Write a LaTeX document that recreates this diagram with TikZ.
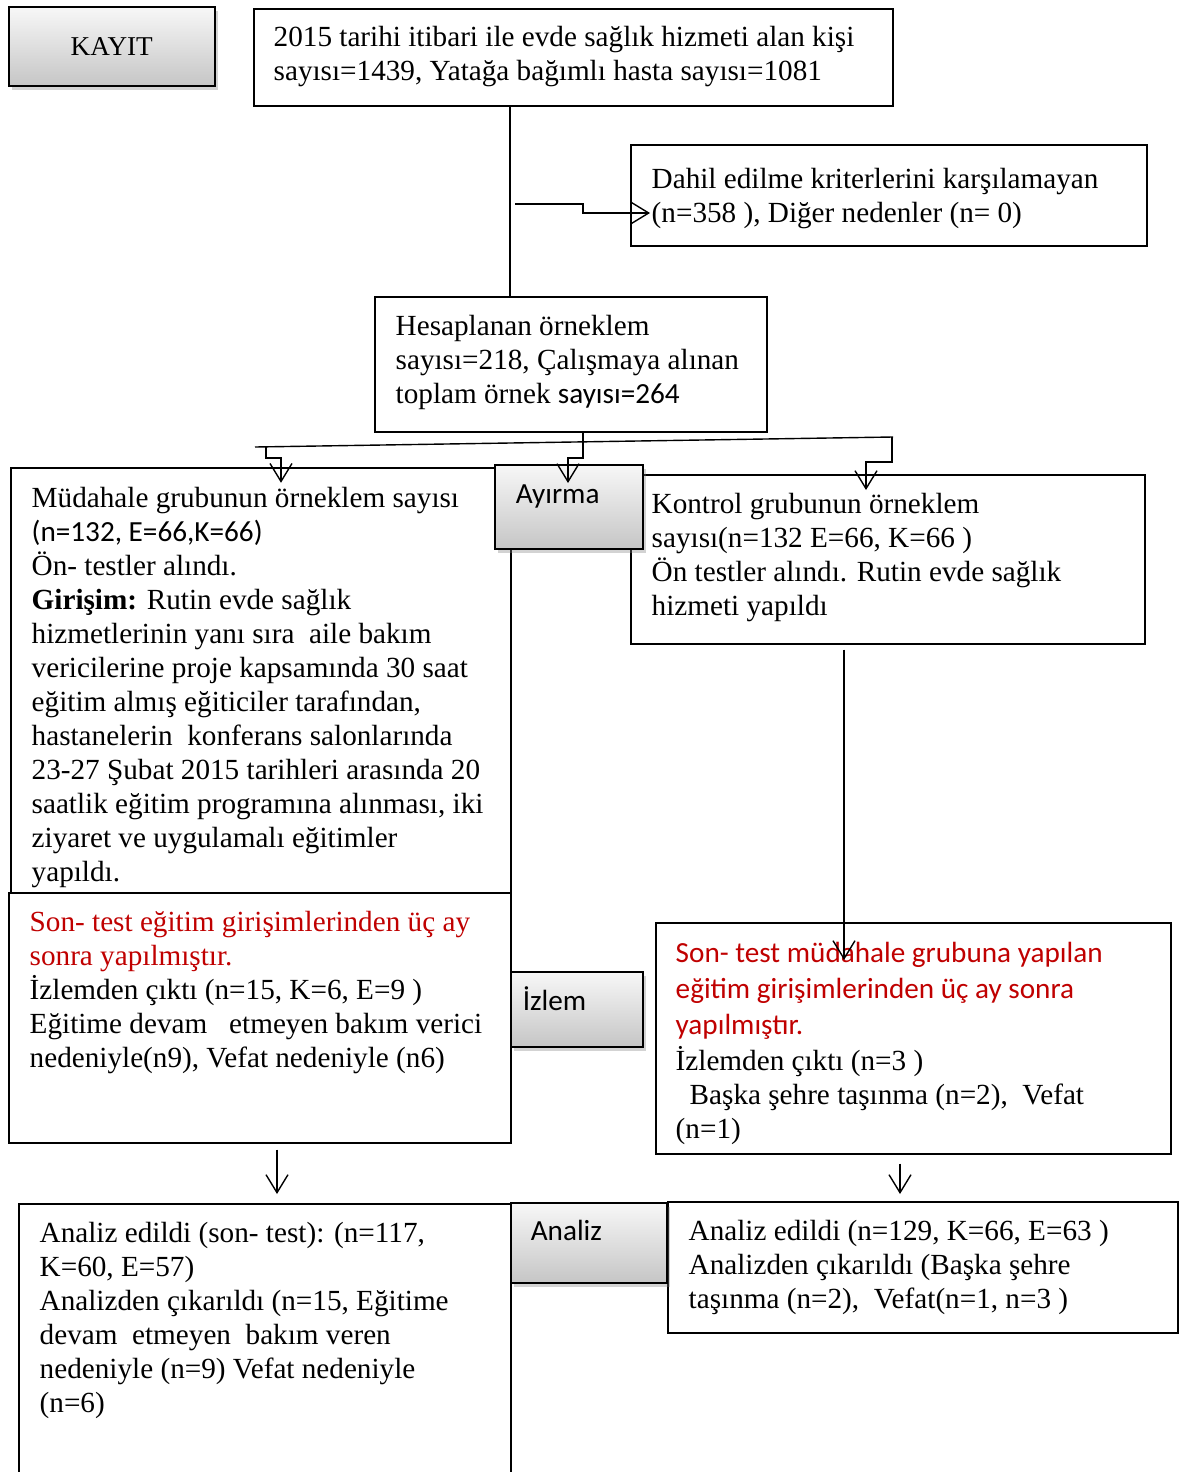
\documentclass[tikz,border=0pt]{standalone}
\usepackage{fontspec}
\setmainfont{Liberation Serif}
\newfontfamily\calibri{Carlito}
\usetikzlibrary{arrows.meta,shadows}
\definecolor{sonred}{RGB}{192,0,0}
\tikzset{%
  box/.style   = {draw, line width=0.8pt, fill=white, anchor=north west, inner sep=0pt},%
  phase/.style = {draw, line width=0.8pt, anchor=north west, inner ysep=0pt, align=left,%
                  top color=gray!6, bottom color=gray!45,%
                  drop shadow={shadow xshift=1.5pt, shadow yshift=-2pt, opacity=0.35},%
                  font=\calibri\fontsize{14.6}{17}\selectfont},%
  txt/.style   = {anchor=north west, inner sep=0pt, align=left},%
  arr/.style   = {-{Straight Barb[length=9pt,width=11pt]}}%
}
\begin{document}
\begin{tikzpicture}[x=0.5pt, y=-0.5pt, font=\fontsize{14.6}{17}\selectfont, line width=0.7pt]
  \useasboundingbox (0,0) rectangle (1178,1472);
  % boxes
  \node[box, minimum width=319.5pt, minimum height=48.5pt] (top) at (253,8) {};
  \node[box, minimum width=258pt, minimum height=50.5pt] (dahil) at (630,144) {};
  \node[box, minimum width=196pt, minimum height=67.5pt] (hes) at (374,296) {};
  \node[box, minimum width=250pt, minimum height=212.5pt] (mud) at (10,467) {};
  \node[box, minimum width=257pt, minimum height=84.5pt] (kon) at (630,474) {};
  \node[box, minimum width=251pt, minimum height=125pt] (sonL) at (8,892) {};
  \node[box, minimum width=257.5pt, minimum height=115.5pt] (sonR) at (655,922) {};
  \node[box, minimum width=246pt, minimum height=140pt] (anL) at (18,1203) {};
  \node[box, minimum width=255pt, minimum height=65.5pt] (anR) at (667,1201) {};
  % phases
  \node[phase, font=\fontsize{13.6}{16}\selectfont, align=center, inner xsep=0pt,
        minimum width=103pt, minimum height=39.5pt] (kayit) at (8,6) {KAYIT};
  \node[phase, text width=53pt, inner xsep=10.5pt, text height=19.5pt, text depth=22.5pt] (ayirma) at (494,464) {Ayırma};
  \node[phase, text width=54pt, inner xsep=6pt, text height=19.5pt, text depth=18pt] (izlem) at (510,971) {İzlem};
  \node[phase, text width=58pt, inner xsep=10pt, text height=19pt, text depth=21pt] (analiz) at (510,1202) {Analiz};
  % texts
  \node[txt] (top-t) at (273,22) {\strut 2015 tarihi itibari ile evde sağlık hizmeti alan kişi\\
    sayısı=1439, Yatağa bağımlı hasta sayısı=1081};
  \node[txt] (dahil-t) at (651,164) {\strut Dahil edilme kriterlerini karşılamayan\\
    (n=358 ), Diğer nedenler (n= 0)};
  \node[txt] (hes-t) at (395,311) {\strut Hesaplanan örneklem\\
    sayısı=218, Çalışmaya alınan\\
    toplam örnek {\calibri sayısı=264}};
  \node[txt] (mud-t) at (31,483) {\strut Müdahale grubunun örneklem sayısı\\
    {\calibri (n=132, E=66,K=66)}\\
    Ön- testler alındı.\\
    \textbf{Girişim:} Rutin evde sağlık\\
    hizmetlerinin yanı sıra\ \ aile bakım\\
    vericilerine proje kapsamında 30 saat\\
    eğitim almış eğiticiler tarafından,\\
    hastanelerin\ \ konferans salonlarında\\
    23-27 Şubat 2015 tarihleri arasında 20\\
    saatlik eğitim programına alınması, iki\\
    ziyaret ve uygulamalı eğitimler\\
    yapıldı.};
  \node[txt] (kon-t) at (651,489) {\strut Kontrol grubunun örneklem\\
    sayısı(n=132 E=66, K=66 )\\
    Ön testler alındı. Rutin evde sağlık\\
    hizmeti yapıldı};
  \node[txt] (sonL-t) at (29,907) {\strut\color{sonred}Son- test eğitim girişimlerinden üç ay\\
    \color{sonred}sonra yapılmıştır.\\
    İzlemden çıktı (n=15, K=6, E=9 )\\
    Eğitime devam\ \ \ etmeyen bakım verici\\
    nedeniyle(n9), Vefat nedeniyle (n6)};
  \node[txt] (sonR-t) at (675,938) {\strut\calibri\color{sonred}Son- test müdahale grubuna yapılan\\[1pt]
    \calibri\color{sonred}eğitim girişimlerinden üç ay sonra\\[1pt]
    \calibri\color{sonred}yapılmıştır.\\[1pt]
    İzlemden çıktı (n=3 )\\
    \hspace*{7pt}Başka şehre taşınma (n=2),\ \ Vefat\\
    (n=1)};
  \node[txt] (anL-t) at (39,1218) {\strut Analiz edildi (son- test): (n=117,\\
    K=60, E=57)\\
    Analizden çıkarıldı (n=15, Eğitime\\
    devam\ \ etmeyen\ \ bakım veren\\
    nedeniyle (n=9) Vefat nedeniyle\\
    (n=6)};
  \node[txt] (anR-t) at (688,1216) {\strut Analiz edildi (n=129, K=66, E=63 )\\
    Analizden çıkarıldı (Başka şehre\\
    taşınma (n=2),\ \ Vefat(n=1, n=3 )};
  % connectors
  \coordinate (trunk) at (510,0);
  \coordinate (ex-s) at (515,204);
  \coordinate (ex-e) at (650,213);
  \coordinate (sp-l) at (255,447);
  \coordinate (sp-r) at (893,437);
  \coordinate (lx) at (266,446.8);
  \coordinate (hx) at (583,458);
  \coordinate (rx) at (892,437);
  \coordinate (kx) at (844,960);
  \coordinate (dl) at (277,0);
  \coordinate (dr) at (900,0);
  \draw (top.south -| trunk) -- (hes.north -| trunk);
  \draw[arr] (ex-s) -- ++(68,0) |- (ex-e);
  \draw (sp-l) -- (sp-r);
  \draw[arr] (lx) -- ++(0,11) -- ++(15,0) -- ++(0,25);
  \draw[arr] (hes.south -| hx) -- (hx) -- ++(-15,0) -- ++(0,25);
  \draw[arr] (rx) -- ++(0,25) -- ++(-26,0) -- ++(0,28);
  \draw[arr, shorten <=2.5pt] (kon.south -| kx) -- (kx);
  \draw[arr, shorten <=3pt, shorten >=4.5pt] (sonL.south -| dl) -- (anL.north -| dl);
  \draw[arr, shorten <=4.5pt, shorten >=3.5pt] (sonR.south -| dr) -- (anR.north -| dr);
\end{tikzpicture}
\end{document}
